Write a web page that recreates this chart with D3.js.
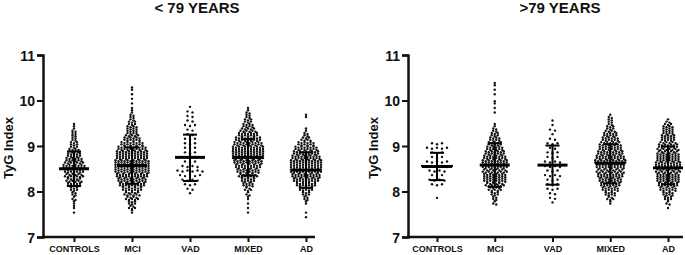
<!DOCTYPE html>
<html>
<head>
<meta charset="utf-8">
<script src="https://cdn.jsdelivr.net/npm/d3@7"></script>
<style>
  body { margin: 0; background: #fff; }
  svg text { font-family: "Liberation Sans", Arial, sans-serif; font-weight: bold; fill: #111; }
</style>
</head>
<body>
<div id="chart"></div>
<script>
var svgWidth = 685;
var svgHeight = 255;

var categories = ["CONTROLS", "MCI", "VAD", "MIXED", "AD"];
var yTicks = [7, 8, 9, 10, 11];

// counts per 0.1 bin of TyG, first bin starts at 7.4
var binStart = 7.4;
var binStep = 0.1;

var youngControls = [0,1,2,2,3,4,6,10,11,13,14,16,13,11,9,7,6,4,4,3,2];
var youngMci      = [0,2,5,6,9,11,14,18,20,22,24,24,24,22,22,20,16,12,9,8,7,5,4,2,1,1,1,1,2];
var youngVad      = [0,0,0,0,0,1,2,3,4,5,6,4,3,3,3,3,3,3,2,2,3,2,2,2,1];
var youngMixed    = [0,1,1,1,2,3,5,8,10,13,16,18,20,22,22,22,20,18,14,11,8,6,4,3,1];
var youngAd       = [1,1,0,2,4,6,10,14,18,20,22,22,22,20,18,16,12,7,4,2,0,0,2];

var oldControls = [0,0,0,0,1,0,0,3,4,3,4,7,5,3,3,5,3];
var oldMci      = [0,0,0,3,4,6,9,13,16,16,17,18,18,16,14,12,10,8,6,4,2,0,0,1,1,2,0,1,1,2];
var oldVad      = [0,0,0,1,2,2,3,3,3,4,3,4,4,3,3,2,3,2,1,2,1,1];
var oldMixed    = [0,0,0,2,5,8,12,14,16,18,19,20,22,20,18,16,15,12,10,7,5,4,3];
var oldAd       = [0,0,1,3,6,8,12,14,16,16,17,18,17,16,15,15,13,10,9,8,7,3];

var youngMeans  = [8.50, 8.57, 8.75, 8.75, 8.47];
var youngSdLow  = [8.12, 8.17, 8.23, 8.35, 8.08];
var youngSdHigh = [8.88, 8.97, 9.25, 9.15, 8.86];

var oldMeans  = [8.55, 8.58, 8.58, 8.62, 8.52];
var oldSdLow  = [8.25, 8.10, 8.15, 8.18, 8.16];
var oldSdHigh = [8.85, 9.06, 9.01, 9.04, 8.99];

var svg = d3.select("#chart")
  .append("svg")
  .attr("width", svgWidth)
  .attr("height", svgHeight);

var y = d3.scaleLinear().domain([7, 11]).range([237, 55]);

// turn bin counts into dot positions (rows spread around the category centre)
// small groups get one row per bin and a wider gap, like the prism layout
function makeDots(counts, ci) {
  var n = d3.sum(counts);
  var rowsPerBin = n < 80 ? 1 : 2;
  var gap = n < 80 ? 5 : 3;
  var dots = [];
  counts.forEach(function(c, b) {
    for (var r = 0; r < rowsPerBin; r++) {
      var k = Math.floor(c / rowsPerBin) + (r < c % rowsPerBin ? 1 : 0);
      var v = binStart + b * binStep + (r + 0.5) * binStep / rowsPerBin;
      for (var j = 0; j < k; j++) {
        dots.push({ cat: ci, value: v, off: (j - (k - 1) / 2) * gap, dy: (j % 2 ? 0.5 : -0.5) });
      }
    }
  });
  return dots;
}

function drawPanel(opts) {
  var x = d3.scalePoint().domain(categories).range(opts.xRange);
  var g = svg.append("g");

  // title
  g.append("text")
    .attr("x", opts.titleX)
    .attr("y", 13)
    .attr("text-anchor", "middle")
    .style("font-size", "15px")
    .text(opts.title);

  // y axis
  var yAxis = g.append("g")
    .attr("transform", `translate(${opts.axisX},0)`)
    .call(d3.axisLeft(y).tickValues(yTicks).tickFormat(d3.format("d")).tickSize(6).tickPadding(2));
  yAxis.select(".domain").attr("stroke", "#111").attr("stroke-width", 2.5);
  yAxis.selectAll(".tick line").attr("stroke", "#111").attr("stroke-width", 2);
  yAxis.selectAll(".tick text").style("font-size", "14px").attr("dy", "0.36em");

  // x axis
  var xAxis = g.append("g")
    .attr("transform", `translate(0,237)`)
    .call(d3.axisBottom(x).tickSize(5).tickPadding(4));
  xAxis.select(".domain").remove();
  xAxis.selectAll(".tick line").attr("stroke", "#111").attr("stroke-width", 2);
  xAxis.selectAll(".tick text").style("font-size", "9px");
  g.append("line")
    .attr("x1", opts.axisX - 1).attr("x2", opts.axisEnd)
    .attr("y1", 237).attr("y2", 237)
    .attr("stroke", "#111").attr("stroke-width", 2.5);

  // axis title
  g.append("text")
    .attr("transform", `translate(${opts.labelX},148) rotate(-90)`)
    .attr("text-anchor", "middle")
    .style("font-size", "13px")
    .text("TyG Index");

  // dots
  var dots = [];
  opts.groups.forEach(function(counts, i) { dots = dots.concat(makeDots(counts, i)); });
  g.append("g").selectAll("circle")
    .data(dots)
    .enter()
    .append("circle")
    .attr("cx", d => x(categories[d.cat]) + d.off)
    .attr("cy", d => y(d.value) + d.dy)
    .attr("r", 1.2)
    .attr("fill", "#111");

  // mean and SD
  var stats = categories.map(function(c, i) {
    return { cat: c, mean: opts.means[i], lo: opts.sdLow[i], hi: opts.sdHigh[i] };
  });
  var sg = g.append("g").attr("stroke", "#000");
  sg.selectAll(".sdv").data(stats).enter().append("line")
    .attr("x1", d => x(d.cat)).attr("x2", d => x(d.cat))
    .attr("y1", d => y(d.lo)).attr("y2", d => y(d.hi))
    .attr("stroke-width", 2);
  sg.selectAll(".sdlo").data(stats).enter().append("line")
    .attr("x1", d => x(d.cat) - 7).attr("x2", d => x(d.cat) + 7)
    .attr("y1", d => y(d.lo)).attr("y2", d => y(d.lo))
    .attr("stroke-width", 2);
  sg.selectAll(".sdhi").data(stats).enter().append("line")
    .attr("x1", d => x(d.cat) - 7).attr("x2", d => x(d.cat) + 7)
    .attr("y1", d => y(d.hi)).attr("y2", d => y(d.hi))
    .attr("stroke-width", 2);
  sg.selectAll(".mean").data(stats).enter().append("line")
    .attr("x1", d => x(d.cat) - 15).attr("x2", d => x(d.cat) + 15)
    .attr("y1", d => y(d.mean)).attr("y2", d => y(d.mean))
    .attr("stroke-width", 3);
}

drawPanel({
  title: "< 79 YEARS", titleX: 197,
  axisX: 43, axisEnd: 315, labelX: 13, xRange: [74, 306],
  groups: [youngControls, youngMci, youngVad, youngMixed, youngAd],
  means: youngMeans, sdLow: youngSdLow, sdHigh: youngSdHigh
});

drawPanel({
  title: ">79 YEARS", titleX: 560,
  axisX: 408, axisEnd: 683, labelX: 378, xRange: [437, 668],
  groups: [oldControls, oldMci, oldVad, oldMixed, oldAd],
  means: oldMeans, sdLow: oldSdLow, sdHigh: oldSdHigh
});
</script>
</body>
</html>
